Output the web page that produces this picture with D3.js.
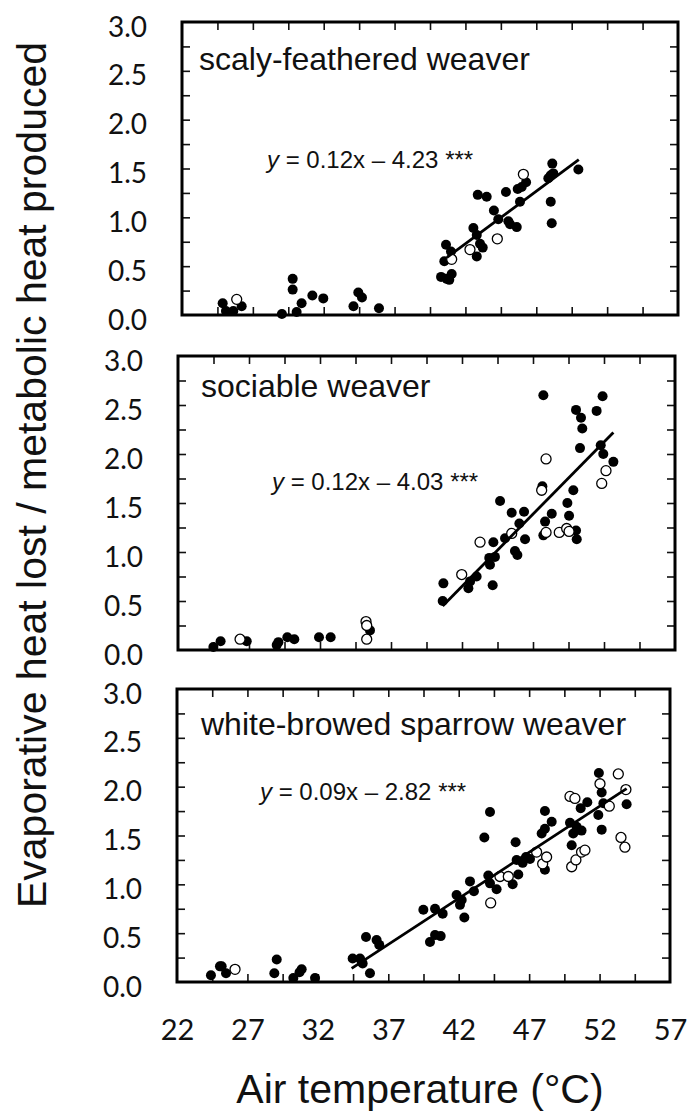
<!DOCTYPE html>
<html>
<head>
<meta charset="utf-8">
<script src="https://cdn.jsdelivr.net/npm/d3@7/dist/d3.min.js"></script>
<style>
  html, body { margin: 0; padding: 0; background: #fff; }
  svg { display: block; }
</style>
</head>
<body>
<svg id="chart" width="689" height="1117"></svg>
<script>
// ---------------- DATA ----------------
const panelTitles = ["scaly-feathered weaver", "sociable weaver", "white-browed sparrow weaver"];
const eqSlopes = ["0.12", "0.12", "0.09"];
const eqIntercepts = ["4.23", "4.03", "2.82"];
const xTickLabels = [22, 27, 32, 37, 42, 47, 52, 57];
const xMinorTicks = [24.5, 27, 29.5, 32, 34.5, 37, 39.5, 42, 44.5, 47, 49.5, 52, 54.5];
const yTickLabels = [0, 0.5, 1, 1.5, 2, 2.5, 3];
const yMinorTicks = [0.25, 0.5, 0.75, 1, 1.25, 1.5, 1.75, 2, 2.25, 2.5, 2.75];
const xTitle = "Air temperature (°C)";
const yTitle = "Evaporative heat lost / metabolic heat produced";

// [air temperature °C, ratio]
const scalyFilled = [
  [24.87,0.12],[25.1,0.04],[25.62,0.04],[26.21,0.09],[29.05,0.01],[29.81,0.37],[29.81,0.26],
  [30.09,0.03],[30.44,0.12],[31.2,0.2],[31.97,0.17],[34.1,0.09],[34.44,0.23],[34.7,0.18],[35.9,0.07],
  [40.63,0.72],[40.98,0.65],[40.51,0.55],[40.28,0.39],[40.68,0.37],[41.03,0.42],[40.86,0.36],
  [42.56,0.89],[42.87,1.23],[43.5,1.21],[42.8,0.6],[43.03,0.73],[43.22,0.69],[42.8,0.82],
  [44.01,1.07],[44.32,0.98],[44.86,1.26],[45.03,0.96],[45.15,0.93],[45.62,0.9],[45.69,1.29],
  [45.97,1.31],[45.85,1.16],[46.28,1.36],[48.02,1.16],[48.09,0.94],[48.13,1.55],[48.02,1.43],
  [48.2,1.45],[47.85,1.4],[49.97,1.49]
];
const scalyOpen = [[25.86,0.16],[41.03,0.57],[42.32,0.67],[44.25,0.78],[46.09,1.44]];
const scalyFit = [[40.7,0.59],[50.0,1.59]];

const sociableFilled = [
  [24.49,0.03],[25.0,0.09],[26.84,0.09],[28.95,0.05],[29.07,0.08],[29.7,0.13],[30.19,0.11],
  [31.93,0.13],[32.75,0.13],[35.52,0.2],
  [40.69,0.68],[40.64,0.5],[42.45,0.63],[42.57,0.7],[43.03,0.75],[44.16,0.66],[43.97,0.87],
  [43.92,0.94],[44.21,1.1],[44.32,0.95],[44.68,1.52],[45.03,1.14],[45.5,1.4],[45.73,1.01],
  [45.9,0.97],[46.04,1.29],[46.37,1.41],[46.44,1.13],[47.73,2.6],[47.66,1.67],[47.85,1.31],
  [47.73,1.17],[48.32,1.39],[49.42,1.5],[49.54,1.37],[49.84,1.63],[50.03,1.22],[50.08,1.13],
  [50.03,2.45],[50.38,2.37],[50.47,2.26],[50.31,2.06],[51.48,2.44],[51.9,2.59],[51.77,2.09],
  [51.95,2.0],[52.66,1.92]
];
const sociableOpen = [
  [26.37,0.11],[35.24,0.29],[35.29,0.25],[35.29,0.11],[41.98,0.77],[43.27,1.1],[45.5,1.19],
  [47.92,1.95],[47.61,1.63],[47.92,1.2],[48.85,1.2],[49.37,1.24],[49.54,1.21],[51.84,1.7],[52.14,1.83]
];
const sociableFit = [[40.64,0.45],[52.66,2.22]];

const whiteFilled = [
  [24.41,0.07],[25.05,0.16],[25.17,0.16],[25.48,0.09],[28.91,0.09],[29.08,0.23],[30.26,0.04],
  [30.7,0.1],[30.85,0.13],[31.8,0.04],
  [34.47,0.24],[34.99,0.24],[35.18,0.19],[35.11,0.21],[35.7,0.09],[35.42,0.46],[36.17,0.43],
  [36.36,0.38],[39.49,0.74],[39.96,0.41],[40.32,0.48],[40.72,0.47],[40.32,0.75],[40.86,0.7],
  [41.85,0.89],[42.09,0.79],[42.21,0.84],[42.4,0.66],[42.8,1.03],[43.08,0.93],[43.82,1.48],
  [44.22,1.74],[44.1,1.09],[44.22,1.01],[44.69,0.95],[45.83,1.0],[46.04,1.43],[46.23,1.1],
  [46.11,1.25],[46.54,1.22],[46.78,1.28],[47.06,1.26],[48.12,1.15],[47.89,1.52],[48.12,1.57],
  [48.12,1.75],[48.6,1.64],[50.66,1.78],[51.13,1.84],[49.9,1.63],[50.13,1.52],[50.37,1.59],
  [50.72,1.55],[50.02,1.4],[51.95,2.14],[51.91,1.71],[52.15,1.94],[52.27,1.83],[52.15,1.56],
  [53.92,1.82]
];
const whiteOpen = [
  [26.12,0.13],[44.27,0.81],[44.93,1.08],[45.52,1.08],[47.53,1.33],[47.96,1.21],[48.24,1.28],
  [49.9,1.9],[50.25,1.88],[50.02,1.18],[50.32,1.25],[50.72,1.33],[50.96,1.35],[52.03,2.03],
  [53.33,2.13],[52.69,1.8],[53.87,1.97],[53.52,1.48],[53.8,1.38]
];
const whiteFit = [[34.4,0.14],[53.92,1.98]];

const xDomain = [22, 57];
const yDomain = [0, 3];

// ---------------- LAYOUT ----------------
const boxes = [
  {x0: 182, x1: 678, y0: 22, y1: 315},
  {x0: 178, x1: 675, y0: 356, y1: 650},
  {x0: 177, x1: 670, y0: 689, y1: 982}
];
const titlePos = [[199, 70], [201, 397], [201, 735]];
const eqPos = [[267, 168], [272, 490], [260, 800]];

const panels = [
  {filled: scalyFilled, open: scalyOpen, fit: scalyFit},
  {filled: sociableFilled, open: sociableOpen, fit: sociableFit},
  {filled: whiteFilled, open: whiteOpen, fit: whiteFit}
];

const svg = d3.select("#chart");
svg.append("rect").attr("width", 689).attr("height", 1117).attr("fill", "#fff");

const tickFont = "Lato, 'Open Sans', sans-serif";
const textFont = "'Liberation Sans', Arial, sans-serif";

let lastX = null, lastBox = null;

panels.forEach((p, i) => {
  const b = boxes[i];
  const x = d3.scaleLinear().domain(xDomain).range([b.x0, b.x1]);
  const y = d3.scaleLinear().domain(yDomain).range([b.y1, b.y0]);
  const g = svg.append("g");

  // minor ticks (inward) on all four sides
  const styleTicks = sel => {
    sel.select(".domain").remove();
    sel.selectAll(".tick line").attr("stroke", "#111").attr("stroke-width", 1.6);
  };
  g.append("g").attr("transform", `translate(0,${b.y1})`)
    .call(d3.axisBottom(x).tickValues(xMinorTicks).tickSize(-8).tickFormat("")).call(styleTicks);
  g.append("g").attr("transform", `translate(0,${b.y0})`)
    .call(d3.axisTop(x).tickValues(xMinorTicks).tickSize(-8).tickFormat("")).call(styleTicks);
  g.append("g").attr("transform", `translate(${b.x0},0)`)
    .call(d3.axisLeft(y).tickValues(yMinorTicks).tickSize(-8).tickFormat("")).call(styleTicks);
  g.append("g").attr("transform", `translate(${b.x1},0)`)
    .call(d3.axisRight(y).tickValues(yMinorTicks).tickSize(-8).tickFormat("")).call(styleTicks);

  // y tick labels
  const yl = g.append("g").attr("transform", `translate(${b.x0},0)`)
    .call(d3.axisLeft(y).tickValues(yTickLabels).tickSize(0).tickPadding(35).tickFormat(d3.format(".1f")));
  yl.select(".domain").remove();
  yl.selectAll("text").attr("font-family", tickFont).attr("font-size", 28)
    .attr("fill", "#111").attr("y", 4).attr("dy", "0.36em");

  // points
  g.append("g").selectAll("circle").data(p.filled).join("circle")
    .attr("cx", d => x(d[0])).attr("cy", d => y(d[1])).attr("r", 5).attr("fill", "#000");
  g.append("g").selectAll("circle").data(p.open).join("circle")
    .attr("cx", d => x(d[0])).attr("cy", d => y(d[1])).attr("r", 5)
    .attr("fill", "#fff").attr("stroke", "#000").attr("stroke-width", 1.3);

  // fit line
  g.append("path").datum(p.fit)
    .attr("d", d3.line().x(d => x(d[0])).y(d => y(d[1])))
    .attr("stroke", "#000").attr("stroke-width", 2.8).attr("fill", "none");

  // box
  g.append("rect").attr("x", b.x0).attr("y", b.y0)
    .attr("width", b.x1 - b.x0).attr("height", b.y1 - b.y0)
    .attr("fill", "none").attr("stroke", "#000").attr("stroke-width", 3);

  // panel title
  g.append("text").attr("x", titlePos[i][0]).attr("y", titlePos[i][1])
    .attr("font-family", textFont).attr("font-size", 32).attr("fill", "#111")
    .text(panelTitles[i]);

  // equation
  const eq = g.append("text").attr("x", eqPos[i][0]).attr("y", eqPos[i][1])
    .attr("font-family", textFont).attr("font-size", 24).attr("fill", "#111");
  eq.append("tspan").attr("font-style", "italic").text("y");
  eq.append("tspan").text(` = ${eqSlopes[i]}x \u2013 ${eqIntercepts[i]} ***`);

  lastX = x; lastBox = b;
});

// x tick labels under the bottom panel
const xl = svg.append("g").attr("transform", `translate(0,${lastBox.y1})`)
  .call(d3.axisBottom(lastX).tickValues(xTickLabels).tickSize(0).tickPadding(37).tickFormat(d3.format("d")));
xl.select(".domain").remove();
xl.selectAll("text").attr("font-family", tickFont).attr("font-size", 29).attr("fill", "#111");

// axis titles
svg.append("text").attr("x", 420).attr("y", 1103).attr("text-anchor", "middle")
  .attr("font-family", textFont).attr("font-size", 41).attr("fill", "#111").text(xTitle);
svg.append("text").attr("transform", "translate(46,475) rotate(-90)").attr("text-anchor", "middle")
  .attr("font-family", textFont).attr("font-size", 41).attr("fill", "#111").text(yTitle);
</script>
</body>
</html>
